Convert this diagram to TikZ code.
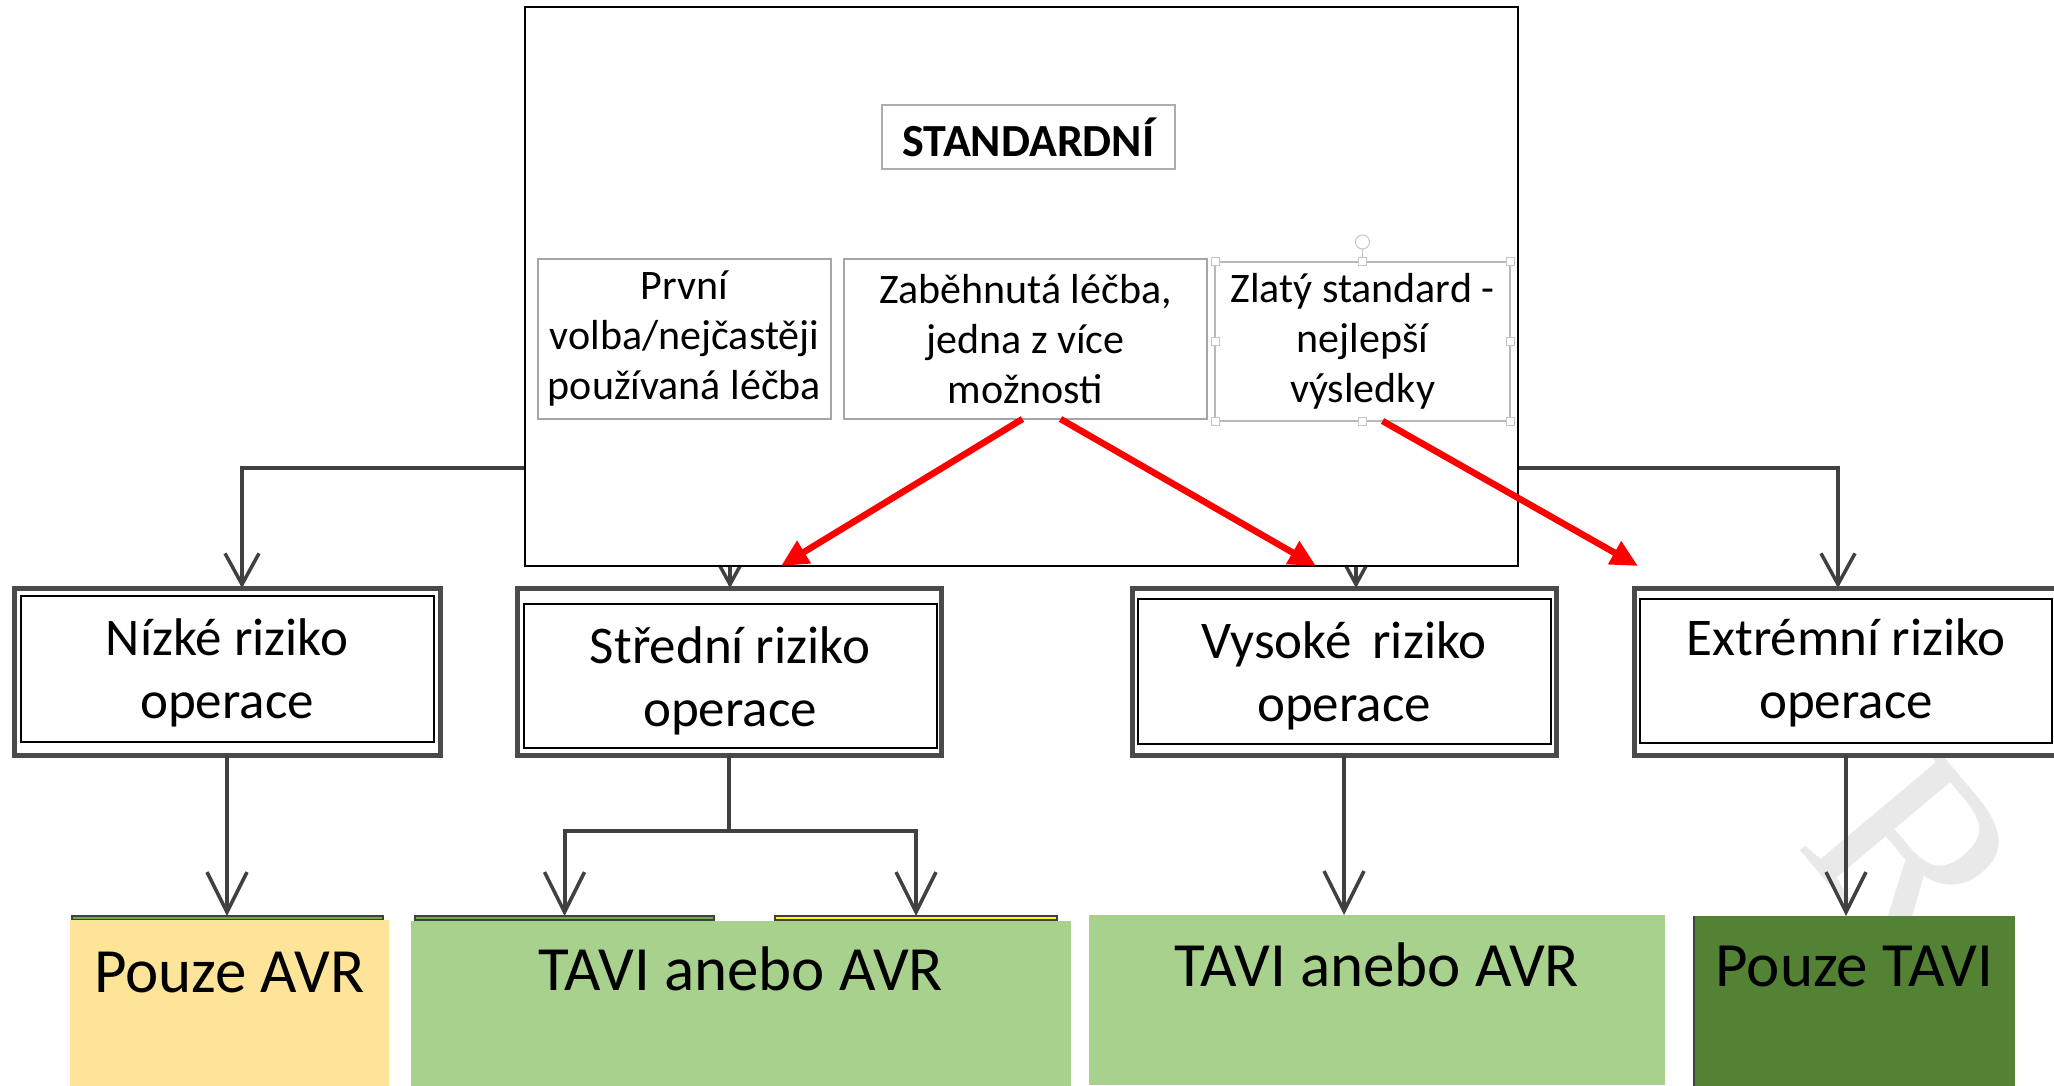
\documentclass[tikz,border=0pt]{standalone}
\usepackage{fontspec}
\setmainfont{Carlito}
\newfontfamily\wmfont{Liberation Serif}
\usetikzlibrary{arrows.meta}

\definecolor{conn}{HTML}{404040}
\definecolor{riskgray}{HTML}{4A4A4A}
\definecolor{gold}{HTML}{FEE499}
\definecolor{lgreen}{HTML}{A9D18E}
\definecolor{dgreen}{HTML}{548235}
\definecolor{stripgreen}{HTML}{70AD47}
\definecolor{stripyellow}{HTML}{FFFF00}
\definecolor{subgray}{HTML}{A6A6A6}
\definecolor{arrowred}{HTML}{FF0000}

\tikzset{
  risk/.style={draw=riskgray, line width=5pt, fill=white, inner sep=0pt, outer sep=0pt,
    minimum height=167pt},
  risktext/.style={inner sep=0pt, align=center, font=\fontsize{53}{63}\selectfont},
  riskinner/.style={draw=black, line width=2.5pt},
  subbox/.style={draw=subgray, line width=2pt, fill=white, inner sep=0pt, outer sep=0pt,
    minimum height=160pt, align=center, font=\fontsize{42}{50}\selectfont},
  outcome/.style={draw=none, inner sep=0pt, outer sep=0pt, anchor=north,
    minimum height=170pt, text depth=98pt, font=\fontsize{63}{72}\selectfont},
  strip/.style={draw=conn, line width=1.2pt, inner sep=0pt, outer sep=0pt, minimum height=4pt},
  connline/.style={draw=conn, line width=4pt},
  conntop/.style={connline, -{Straight Barb[length=31pt, width=34pt, line width=3.5pt]}},
  connbot/.style={connline, -{Straight Barb[length=40pt, width=40pt, line width=3.5pt]}},
  redarrow/.style={draw=arrowred, line width=6.5pt, -{Triangle[length=27pt, width=25pt]}},
  handle/.style={draw=gray!45, fill=white, line width=1pt},
  watermark/.style={text=gray!17, font=\wmfont\fontsize{260}{260}\selectfont, inner sep=0pt}
}

\begin{document}
\begin{tikzpicture}[x=1pt, y=-1pt]
\useasboundingbox (0,0) rectangle (2054,1086);
\clip (0,0) rectangle (2054,1086);
\fill[white] (0,0) rectangle (2054,1086);

% faint diagonal watermark letter
\node[watermark, rotate=-50] (wm) at (1915,855) {R};

% top edges of the covered outcome boxes
\node[strip, fill=stripgreen, minimum width=311pt] (stripA) at (227.5,918) {};
\node[strip, fill=stripgreen, minimum width=299pt] (stripG) at (564.5,918) {};
\node[strip, fill=stripyellow, minimum width=282pt] (stripY) at (916,918) {};

% outcome boxes
\node[outcome, fill=gold,   minimum width=319pt, text height=72pt] (avr)  at (229.5,920) {Pouze AVR};
\node[outcome, fill=lgreen, minimum width=660pt, text height=67pt] (tavi1) at (741,921) {TAVI anebo AVR};
\node[outcome, fill=lgreen, minimum width=576pt, text height=71pt] (tavi2) at (1377,915) {TAVI anebo AVR};
\node[outcome, fill=dgreen, minimum width=321pt, text height=69pt] (tavi)  at (1854.5,916) {Pouze TAVI};
\draw[black!75, line width=2.5pt] (tavi.north west) -- (tavi.south west);

% risk boxes with double frame
\node[risk, minimum width=426pt] (riskA) at (227,671.5) {};
\node[risk, minimum width=424pt] (riskB) at (729,671.5) {};
\node[risk, minimum width=424pt] (riskC) at (1344,671.5) {};
\node[risk, minimum width=424pt] (riskD) at (1846,671.5) {};
\draw[riskinner] ([shift={(7pt,-8pt)}]riskA.north west) rectangle ([shift={(-6pt,13pt)}]riskA.south east);
\draw[riskinner] ([shift={(7pt,-16pt)}]riskB.north west) rectangle ([shift={(-4pt,7pt)}]riskB.south east);
\draw[riskinner] ([shift={(6pt,-11pt)}]riskC.north west) rectangle ([shift={(-5pt,11pt)}]riskC.south east);
\draw[riskinner] ([shift={(6pt,-11pt)}]riskD.north west) rectangle ([shift={(-6pt,12pt)}]riskD.south east);
\node[risktext] (riskAtext) at (227,673) {Nízké riziko\\operace};
\node[risktext] (riskBtext) at (730,680.5) {Střední riziko\\operace};
\node[risktext] (riskCtext) at (1344,675.5) {Vysoké\, riziko\\operace};
\node[risktext] (riskDtext) at (1846,673) {Extrémní riziko\\operace};

% tree from the top bar to the risk boxes
\coordinate (hub) at (1040,468);
\draw[conntop] (hub) -| ([xshift=15pt]riskA.north);
\draw[conntop] (hub) -| ([xshift=1pt]riskB.north);
\draw[conntop] (hub) -| ([xshift=12pt]riskC.north);
\draw[conntop] (hub) -| ([xshift=-8pt]riskD.north);

% risk boxes to outcomes
\draw[connbot] (riskA.south) -- (riskA.south |- stripA.north);
\draw[connline] (riskB.south) -- ++(0,76) coordinate (split);
\draw[connbot] (split) -| (stripG.north);
\draw[connbot] (split) -| (stripY.north);
\draw[connbot] (riskC.south) -- (riskC.south |- tavi2.north);
\draw[connbot] (riskD.south) -- (riskD.south |- tavi.north);

% overlay frame
\node[draw=black, line width=2.5pt, fill=white, minimum width=993pt, minimum height=559pt,
      inner sep=0pt, outer sep=0pt] (frame) at (1021.5,286.5) {};

\node[draw=gray!65, line width=2.5pt, fill=white, minimum width=293pt, minimum height=64pt,
      inner sep=0pt, outer sep=0pt, font=\fontsize{46}{50}\selectfont\bfseries] (std) at (1028.5,137) {STANDARDNÍ};

\node[subbox, minimum width=293pt] (sub1) at (684.5,339) {První\\volba/nejčastěji\\používaná léčba};
\node[subbox, minimum width=363pt] (sub2) at (1025.5,339) {Zaběhnutá léčba,\\jedna z více\\možnosti};
\node[subbox, draw=gray!55, line width=1.5pt, minimum width=295pt, minimum height=159pt] (sub3) at (1362.5,341.5) {Zlatý standard -\\nejlepší\\výsledky};

% selection handles of the third box
\draw[gray!45, line width=1pt] (sub3.north) -- ++(0,-20) coordinate (rot);
\draw[handle] (rot) circle[radius=7pt];
\foreach \a in {north west,north,north east,east,south east,south,south west,west}
  \draw[handle] ([shift={(-4pt,4pt)}]sub3.\a) rectangle ++(8,8);

% red arrows
\coordinate (t1) at (781,566);
\coordinate (t2) at (1316,566);
\coordinate (t3) at (1638,566);
\draw[redarrow] ([xshift=-3pt]sub2.south) -- (t1);
\draw[redarrow] ([xshift=35pt]sub2.south) -- (t2);
\draw[redarrow] ([xshift=20pt]sub3.south) -- (t3);
\end{tikzpicture}
\end{document}
